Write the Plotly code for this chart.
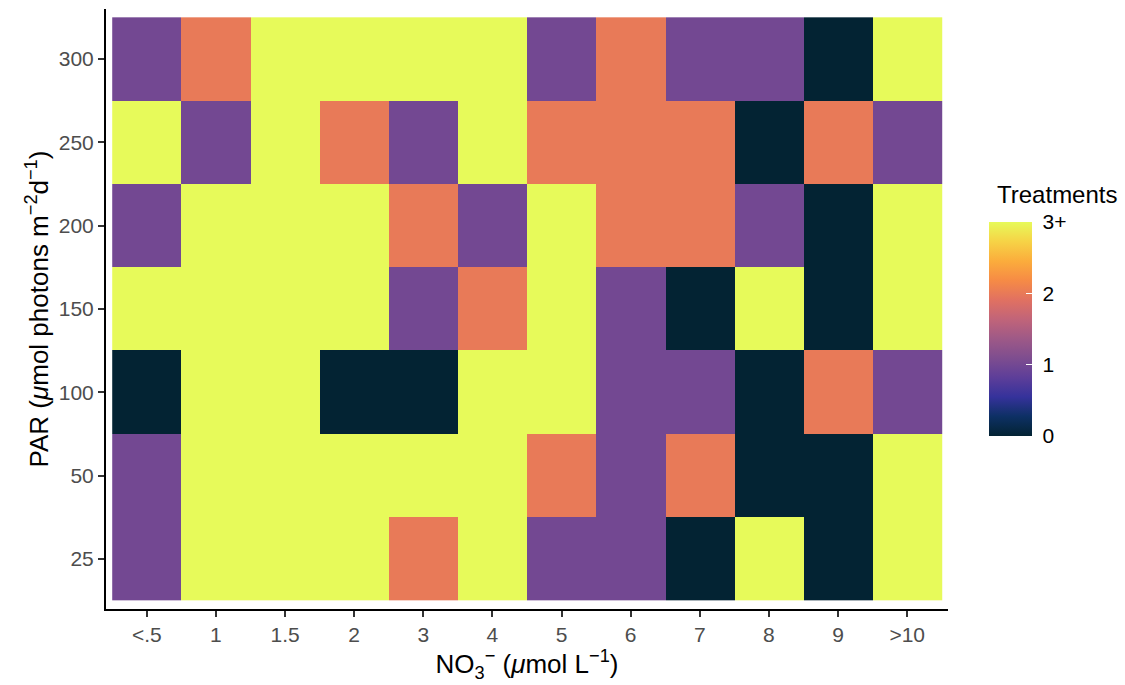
import plotly.graph_objects as go

x_labels = ["<.5", "1", "1.5", "2", "3", "4", "5", "6", "7", "8", "9", ">10"]
y_labels = ["25", "50", "100", "150", "200", "250", "300"]

# rows bottom (25) to top (300)
row_25  = [1, 3, 3, 3, 2, 3, 1, 1, 0, 3, 0, 3]
row_50  = [1, 3, 3, 3, 3, 3, 2, 1, 2, 0, 0, 3]
row_100 = [0, 3, 3, 0, 0, 3, 3, 1, 1, 0, 2, 1]
row_150 = [3, 3, 3, 3, 1, 2, 3, 1, 0, 3, 0, 3]
row_200 = [1, 3, 3, 3, 2, 1, 3, 2, 2, 1, 0, 3]
row_250 = [3, 1, 3, 2, 1, 3, 2, 2, 2, 0, 2, 1]
row_300 = [1, 2, 3, 3, 3, 3, 1, 2, 1, 1, 0, 3]

z = [row_25, row_50, row_100, row_150, row_200, row_250, row_300]

cbar_ticks = [0, 1, 2, 3]
cbar_labels = ["0", "1", "2", "3+"]

font_family = "Liberation Sans, Arial, sans-serif"

# layout geometry (pixels)
W, H = 1125, 685
L, R, T, B = 106, 177, 9, 76
pw, ph = W - L - R, H - T - B
cb_left, cb_thick = 989, 43
cb_top, cb_bottom = 222, 436

def px_x(p):
    return (p - L) / pw

def px_y(p):
    return (H - B - p) / ph

fig = go.Figure(go.Heatmap(
    x=x_labels, y=y_labels, z=z,
    colorscale="thermal", zmin=0, zmax=3,
    colorbar=dict(
        tickvals=cbar_ticks, ticktext=["\u00a0" + t for t in cbar_labels],
        tickfont=dict(size=21, color="black", family=font_family),
        ticks="inside", tickcolor="white", ticklen=6, tickwidth=1.2,
        thickness=cb_thick, thicknessmode="pixels",
        len=cb_bottom - cb_top, lenmode="pixels",
        x=px_x(cb_left), xanchor="left", xpad=0,
        y=px_y(cb_bottom), yanchor="bottom", ypad=0,
        outlinewidth=0,
    ),
))

# left-side white ticks of the colour bar (ggplot draws both sides)
for v in cbar_ticks:
    py = cb_bottom - v * (cb_bottom - cb_top) / 3
    fig.add_shape(type="line", xref="paper", yref="paper",
                  x0=px_x(cb_left), x1=px_x(cb_left + 6),
                  y0=px_y(py), y1=px_y(py),
                  line=dict(color="white", width=1.2))

fig.add_annotation(
    text="Treatments", xref="paper", yref="paper",
    x=px_x(cb_left + 6), y=px_y(cb_top - 12),
    xanchor="left", yanchor="bottom", showarrow=False,
    font=dict(size=24, color="black", family=font_family),
)

fig.update_xaxes(
    type="category", range=[-0.59, 11.59],
    showline=True, linecolor="black", linewidth=2, mirror=False,
    ticks="outside", ticklen=6, tickcolor="#333333", tickwidth=1.5,
    tickfont=dict(size=21, color="#4d4d4d", family=font_family),
    title=dict(text="NO<sub>3</sub><sup>−</sup> (<i>μ</i>mol L<sup>−1</sup>)",
               font=dict(size=26, color="black", family=font_family), standoff=3),
    showgrid=False, zeroline=False,
)
fig.update_yaxes(
    type="category", range=[-0.6, 6.6],
    showline=True, linecolor="black", linewidth=2, mirror=False,
    ticks="outside", ticklen=6, tickcolor="#333333", tickwidth=1.5,
    tickfont=dict(size=21, color="#4d4d4d", family=font_family),
    title=dict(text="PAR (<i>μ</i>mol photons m<sup>−2</sup>d<sup>−1</sup>)",
               font=dict(size=26, color="black", family=font_family), standoff=3),
    showgrid=False, zeroline=False,
)

fig.update_layout(
    width=W, height=H,
    margin=dict(l=L, r=R, t=T, b=B, autoexpand=False),
    plot_bgcolor="white", paper_bgcolor="white",
    font=dict(family=font_family),
)

fig.write_html("out.html")
